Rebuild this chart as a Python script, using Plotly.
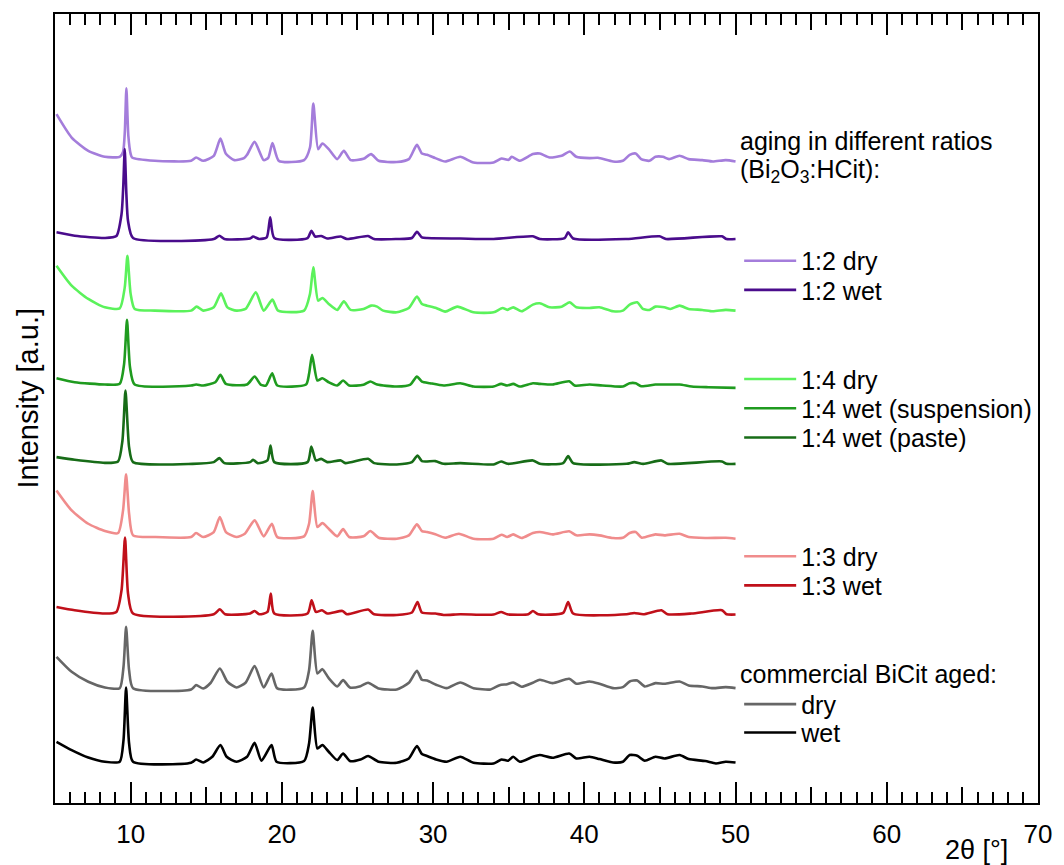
import plotly.graph_objects as go

# 2-theta positions (deg) and baseline-relative intensities (a.u.) for each pattern
X_12_DRY = [5.1, 6.1, 7.2, 8.3, 9.28, 9.5, 9.62, 9.72, 9.85, 10.0, 10.1, 11.6, 14.0, 14.33, 14.8, 15.5, 15.94, 16.3,
            16.86, 17.5, 17.7, 18.2, 18.8, 19.1, 19.38, 19.8, 21.47, 21.86, 22.08, 22.4, 22.68, 23.1, 23.66, 24.1,
            24.55, 25.4, 25.9, 26.4, 27.6, 28.4, 28.93, 29.26, 29.6, 30.15, 30.8, 31.8, 32.67, 34.0, 34.53, 35.0,
            35.2, 35.74, 36.6, 37.06, 37.7, 38.5, 39.04, 39.47, 40.35, 40.9, 41.9, 42.55, 43.0, 43.4, 43.76, 44.3,
            44.7, 45.2, 45.6, 46.3, 46.9, 47.8, 48.5, 49.35, 50.0]
Y_12_DRY = [46.7, 23.3, 10, 4, 4, 9, 30, 72.7, 25, 7, 3.3, 0, 0, 3.3, 0, 5, 22.3, 7,
            0.7, 2.7, 6, 19, 0.7, 3, 17.7, 0, 0.7, 13.3, 57.3, 11.7, 17.3, 11.7, 1.7, 10,
            0.7, 2, 6.7, 0, -1.2, 1.7, 16, 7.3, 6, 2.7, -0.7, 4, -1.7, -1.7, 2.3, 1,
            4, 0, 6.7, 7.3, 3.3, 5, 9.3, 4, 2.7, 3, -0.7, 0, 6, 7.3, 1.7, 0,
            4, 4, 1.7, 5, 1.7, 0.7, -0.7, 0.7, -0.7]

X_12_WET = [5.1, 6.3, 8.3, 9.06, 9.4, 9.52, 9.61, 9.72, 9.83, 10.16, 15.5, 15.87, 16.2, 17.9, 18.1, 18.5, 19.0,
            19.23, 19.5, 21.7, 21.95, 22.2, 22.6, 23.0, 23.9, 24.3, 25.7, 26.1, 27.6, 28.6, 28.93, 29.26, 29.6,
            31.8, 34.0, 36.6, 37.06, 38.7, 38.93, 39.26, 42.8, 44.97, 45.4, 49.1, 49.4, 50.0]
Y_12_WET = [6.7, 3.3, 1, 3, 25, 55, 90, 45, 18, 1, 0, 3.3, 0, 0.5, 2.5, 0, 1.7,
            21.7, 1, 1, 8.3, 2.5, 3, 0.5, 2.5, 0, 3, 0, 0, 1, 7.3, 1.7, 1,
            0.5, 0, 2.7, 0, 1, 6.7, 0.5, 0, 2.7, 0, 2.7, 0, 0]

X_14_DRY = [5.1, 6.1, 7.2, 8.3, 9.28, 9.61, 9.79, 10.0, 10.27, 11.6, 14.0, 14.37, 14.8, 15.5, 15.98, 16.4, 17.0,
            17.6, 18.28, 18.8, 19.38, 19.75, 21.47, 21.86, 22.08, 22.4, 22.68, 23.1, 23.66, 24.1, 24.55, 25.4,
            25.9, 26.3, 26.7, 27.6, 28.4, 28.93, 29.26, 29.6, 30.2, 30.8, 31.6, 32.67, 34.0, 34.6, 34.9, 35.3,
            35.85, 36.6, 37.06, 37.7, 38.5, 39.04, 39.47, 40.35, 41.0, 41.9, 42.55, 43.0, 43.5, 43.87, 44.3,
            44.7, 45.3, 45.7, 46.3, 46.9, 47.8, 48.5, 49.35, 50.0]
Y_14_DRY = [45, 25, 11.7, 3.3, 2.3, 23, 55, 17, 1.7, 0, 0, 4, 0, 3.3, 17.3, 3.3, 0,
            1.7, 18.3, 0, 11, 0, 0, 16.7, 43.3, 10, 12.7, 6.7, 0.7, 9.3, 0.7, 1.7,
            5, 4, 0, -1.7, 2.7, 14, 6.7, 5, 2.7, -1, 4, -1.7, -1.7, 2.7, 0.7, 3.3,
            -0.7, 6, 7.3, 3.3, 4, 8.3, 3.3, 2.7, 3.3, -0.7, 0, 6, 8.3, 1.7, 0.7,
            4, 3.3, 1.7, 5, 1.7, 0.7, -0.7, 0.7, 0]

X_14_SUSP = [5.1, 6.3, 8.3, 9.28, 9.57, 9.76, 9.96, 10.27, 14.0, 14.33, 14.8, 15.6, 15.94, 16.3, 17.7, 18.2,
             18.6, 18.95, 19.36, 19.7, 21.6, 21.8, 22.0, 22.35, 22.68, 23.1, 23.66, 24.05, 24.45, 25.4, 25.85,
             26.3, 27.6, 28.5, 28.93, 29.26, 29.8, 30.7, 31.8, 32.67, 34.0, 34.5, 34.9, 35.3, 35.74, 36.6,
             37.06, 37.9, 39.0, 39.36, 40.35, 41.2, 42.55, 43.0, 43.4, 43.76, 44.7, 45.2, 46.3, 47.1, 48.2, 50.0]
Y_14_SUSP = [7.3, 3.3, 1, 1.7, 21.7, 65.7, 18.3, 1, 0, 1, 0, 3.3, 10.7, 1.7, 1, 9,
             1, 0, 12.3, 0, 1, 11.7, 30.7, 5, 7.3, 3.3, 0, 5, 0, 0.7, 4,
             1, -1, 1, 9, 4, 2.3, 0, 2.3, -1, -1, 1.7, 0, 1.7, -1, 2.3,
             1.7, 1, 4.3, 0, 1, 0, -1, 2.3, 2.3, -0.7, 1, 1, 1, -1, -1.7, -2.3]

X_14_PASTE = [5.1, 6.3, 8.3, 9.17, 9.46, 9.66, 9.9, 10.16, 14.1, 15.5, 15.87, 16.2, 17.9, 18.1, 18.4, 19.05,
              19.25, 19.5, 21.7, 21.95, 22.25, 22.6, 23.0, 23.9, 24.2, 25.7, 26.1, 27.6, 28.6, 28.97, 29.26,
              30.15, 30.7, 31.8, 34.0, 34.5, 34.95, 36.6, 37.06, 38.6, 38.93, 39.26, 42.8, 43.3, 43.9, 45.1,
              45.5, 49.1, 49.4, 50.0]
Y_14_PASTE = [6, 3.3, 0.3, 1.7, 22.7, 72.7, 16, 1, -0.7, 1, 5, 0, 1, 3.3, 0, 2.7,
              17.7, 1, 1, 16.7, 2.7, 4.3, 1, 2.7, 0, 4.3, 0, -1.3, 1, 7.7, 2,
              2, -0.7, 0, -1.3, 1.7, -0.7, 2.7, -0.7, 0, 7, 0, -0.7, 1, -0.7, 2.7,
              -0.7, 1.7, -0.7, -0.7]

X_13_DRY = [5.1, 6.1, 7.2, 8.3, 9.17, 9.5, 9.7, 9.9, 10.16, 11.6, 14.0, 14.33, 14.8, 15.5, 15.9, 16.3, 17.0,
            17.55, 18.2, 18.8, 19.34, 19.7, 21.47, 21.8, 22.04, 22.35, 22.68, 23.1, 23.66, 24.05, 24.45, 25.4,
            25.85, 26.4, 27.6, 28.4, 28.93, 29.26, 29.6, 30.15, 30.8, 31.7, 32.67, 34.0, 34.53, 34.9, 35.3,
            35.85, 36.6, 37.06, 37.9, 39.0, 39.47, 40.35, 41.0, 41.9, 42.55, 43.0, 43.4, 43.8, 44.7, 45.3,
            46.3, 46.9, 48.0, 49.35, 50.0]
Y_13_DRY = [46.7, 26.7, 13.3, 6, 4, 26.7, 62.7, 23.3, 1.7, 0, 0, 4, 0, 5, 20, 5, 0,
            3.3, 16.7, 0.7, 13.3, 0, 0.7, 13.3, 46, 10, 14, 8.3, 0.7, 8, 0, 0.7,
            6, -0.7, -1.7, 1.7, 12.7, 6, 5, 2.7, -0.7, 3.3, -1.7, -1.7, 2.3, 0, 2.7,
            -1, 4, 5, 2.7, 5.7, 1.7, 2.7, 1.7, -1, -0.7, 4, 5, -0.7, 2.7, 1.7,
            3.3, 0, -1, -0.7, -1.7]

X_13_WET = [5.1, 6.3, 8.3, 9.06, 9.4, 9.63, 9.83, 10.16, 15.5, 15.9, 16.25, 17.9, 18.2, 18.5, 19.05, 19.27,
            19.5, 21.7, 21.97, 22.25, 22.65, 23.0, 24.0, 24.3, 25.7, 26.1, 27.6, 28.6, 28.97, 29.26, 30.15,
            30.7, 31.8, 34.0, 34.5, 34.9, 36.3, 36.6, 36.95, 38.6, 38.93, 39.26, 42.8, 43.3, 43.9, 45.1,
            45.5, 47.1, 49.1, 49.4, 50.0]
Y_13_WET = [7.3, 4, 0.7, 2.3, 24, 76.7, 20.7, 0.7, 0, 5, 0, 0.7, 3.3, 0, 2.3, 20.7,
            0.7, 0.7, 14, 2.3, 4, 0.7, 3.3, 0, 4.7, 0, -0.7, 1.7, 12.3, 1.7, 0.7,
            -0.7, 0, -0.3, 2.3, 0, 0, 3.3, 0, 1.3, 12.3, 0.7, 0, 1.3, 0, 4,
            0, 0.7, 4, 0, -0.3]

X_COM_DRY = [5.1, 6.1, 7.2, 8.3, 9.28, 9.53, 9.7, 9.9, 10.16, 14.0, 14.33, 14.8, 15.3, 15.9, 16.4, 17.0, 17.6,
             18.2, 18.8, 19.32, 19.7, 21.47, 21.8, 22.04, 22.35, 22.68, 23.1, 23.66, 24.05, 24.5, 25.2, 25.7,
             26.4, 27.6, 28.4, 28.93, 29.26, 29.6, 30.2, 30.9, 31.8, 32.67, 33.8, 34.4, 34.9, 35.3, 35.85,
             36.6, 37.06, 37.9, 39.0, 39.47, 40.35, 41.0, 41.9, 42.55, 43.0, 43.5, 44.0, 44.7, 45.3, 46.3,
             46.9, 47.8, 48.5, 49.35, 50.0]
Y_COM_DRY = [32.7, 17.7, 7.7, 2, 1.3, 22.7, 62.7, 19.3, 1.3, 0, 4.3, 1, 6.7, 21, 7.7, 2, 6.7,
             23.3, 2, 16, 1, 2, 19.3, 58.7, 16, 20.3, 11.3, 3, 9.3, 2, 3.3, 6.7,
             1, 0, 6.7, 18.7, 9.7, 9, 4.7, 1.3, 7, 1.3, 0, 4.3, 5.3, 7, 2.7,
             6.7, 9.7, 6.3, 10.7, 5.7, 8, 5.7, 1.3, 2.3, 8, 9, 3, 6.3, 5.7, 8,
             4, 3, 1.3, 2.3, 1.3]

X_COM_WET = [5.1, 6.1, 7.2, 8.3, 9.28, 9.53, 9.7, 9.9, 10.16, 14.0, 14.33, 14.8, 15.4, 15.94, 16.35, 17.0, 17.7,
             18.2, 18.65, 19.32, 19.65, 21.47, 21.8, 22.04, 22.35, 22.68, 23.1, 23.66, 24.05, 24.5, 25.2, 25.7,
             26.4, 27.6, 28.4, 28.93, 29.26, 29.6, 30.2, 30.9, 31.8, 32.67, 34.0, 34.53, 34.95, 35.3, 35.74,
             36.6, 37.06, 37.9, 39.0, 39.47, 40.35, 41.0, 41.9, 42.55, 43.0, 43.5, 44.0, 44.7, 45.3, 46.3,
             46.9, 48.0, 48.7, 49.35, 50.0]
Y_COM_WET = [21, 12.7, 5.3, 1, 1, 22.7, 75.3, 19.3, 1, 0, 3.3, 0.3, 6, 17.7, 6, 1, 6,
             20, 2, 17.7, 1, 1.7, 19.3, 55.3, 14.3, 17.7, 11, 2.7, 9.3, 1.7, 3.3, 6.7,
             1, 0, 4.3, 16.7, 8.7, 6.7, 3.3, 1, 6, 0, -0.7, 3.3, 2, 6, 1,
             6, 7.7, 5, 9.3, 4.3, 6, 3.7, 0.3, 1, 7.7, 7, 2, 6, 4.3, 7.7,
             3.7, 1.7, -0.7, 1, 0.3]

# Series order (top to bottom), labels, colours and vertical stacking offsets (a.u.)
LABELS = ["1:2 dry", "1:2 wet", "1:4 dry", "1:4 wet (suspension)", "1:4 wet (paste)",
          "1:3 dry", "1:3 wet", "dry", "wet"]
XS = [X_12_DRY, X_12_WET, X_14_DRY, X_14_SUSP, X_14_PASTE, X_13_DRY, X_13_WET, X_COM_DRY, X_COM_WET]
YS = [Y_12_DRY, Y_12_WET, Y_14_DRY, Y_14_SUSP, Y_14_PASTE, Y_13_DRY, Y_13_WET, Y_COM_DRY, Y_COM_WET]
OFFSETS = [643, 564.7, 493, 418, 340.3, 266.3, 189, 113.7, 40.3]
COLORS = ["#A47DDB", "#4A0C8C", "#5BF25B", "#1F9B1F", "#176C17",
          "#F08C8C", "#C0101A", "#666666", "#000000"]

# vertical centre (paper fraction) of each legend row
LEGEND_ROWS = [0.6870, 0.6500, 0.5370, 0.5000, 0.4630, 0.3125, 0.2755, 0.1250, 0.0890]

FONT = "Liberation Sans, Arial, sans-serif"
LEG_FONT = 25

fig = go.Figure()
legends = {}
for i, (x, y, off, lab, col, row) in enumerate(zip(XS, YS, OFFSETS, LABELS, COLORS, LEGEND_ROWS)):
    lid = "legend" if i == 0 else f"legend{i + 1}"
    fig.add_trace(go.Scatter(
        x=x, y=[v + off for v in y], mode="lines", name=lab,
        line=dict(color=col, width=2.6, shape="spline", smoothing=0.6), legend=lid,
    ))
    legends[lid] = dict(x=0.696, y=row, xanchor="left", yanchor="middle",
                        font=dict(family=FONT, size=LEG_FONT, color="black"),
                        bgcolor="rgba(0,0,0,0)", borderwidth=0, itemwidth=52)

# invisible trace that carries the mid-level (every 5 deg) tick axis
fig.add_trace(go.Scatter(x=[5, 70], y=[0, 0], xaxis="x2", mode="lines",
                         line=dict(width=0), showlegend=False, hoverinfo="skip"))

fig.update_layout(
    width=1064, height=865,
    margin=dict(l=55, r=22, t=13, b=62),
    paper_bgcolor="white", plot_bgcolor="white",
    font=dict(family=FONT, size=26, color="black"),
    xaxis=dict(range=[5, 70], dtick=10, tick0=0, ticks="inside", ticklen=21, tickwidth=2,
               tickcolor="black", showline=True, linewidth=2, linecolor="black",
               mirror="ticks", showgrid=False, zeroline=False,
               tickfont=dict(family=FONT, size=26, color="black"), ticklabelstandoff=7,
               minor=dict(dtick=1, tick0=0, ticks="inside", ticklen=11, tickwidth=2,
                          tickcolor="black", showgrid=False)),
    xaxis2=dict(range=[5, 70], overlaying="x", anchor="y", side="bottom", dtick=5, tick0=0,
                ticks="inside", ticklen=16, tickwidth=2, tickcolor="black",
                showticklabels=False, mirror="ticks", showgrid=False, zeroline=False,
                showline=False),
    yaxis=dict(range=[0, 790], showticklabels=False, ticks="", showgrid=False, zeroline=False,
               showline=True, linewidth=2, linecolor="black", mirror=True),
    showlegend=True,
    **legends,
)

HEAD_FONT = dict(family=FONT, size=LEG_FONT, color="black")
fig.add_annotation(text="aging in different ratios", xref="paper", yref="paper",
                   x=0.695, y=0.8390, xanchor="left", yanchor="middle",
                   showarrow=False, font=HEAD_FONT)
fig.add_annotation(text="(Bi<sub>2</sub>O<sub>3</sub>:HCit):", xref="paper", yref="paper",
                   x=0.695, y=0.8010, xanchor="left", yanchor="middle",
                   showarrow=False, font=HEAD_FONT)
fig.add_annotation(text="commercial BiCit aged:", xref="paper", yref="paper",
                   x=0.695, y=0.1630, xanchor="left", yanchor="middle",
                   showarrow=False, font=HEAD_FONT)
fig.add_annotation(text="Intensity [a.u.]", xref="paper", yref="paper", x=-0.0274, y=0.5127,
                   xanchor="center", yanchor="middle", textangle=-90, showarrow=False,
                   font=dict(family=FONT, size=29, color="black"))
fig.add_annotation(text="2θ [°]", xref="paper", yref="paper", x=0.937, y=-0.06,
                   xanchor="center", yanchor="middle", showarrow=False,
                   font=dict(family=FONT, size=27, color="black"))

fig.write_html("out.html")
